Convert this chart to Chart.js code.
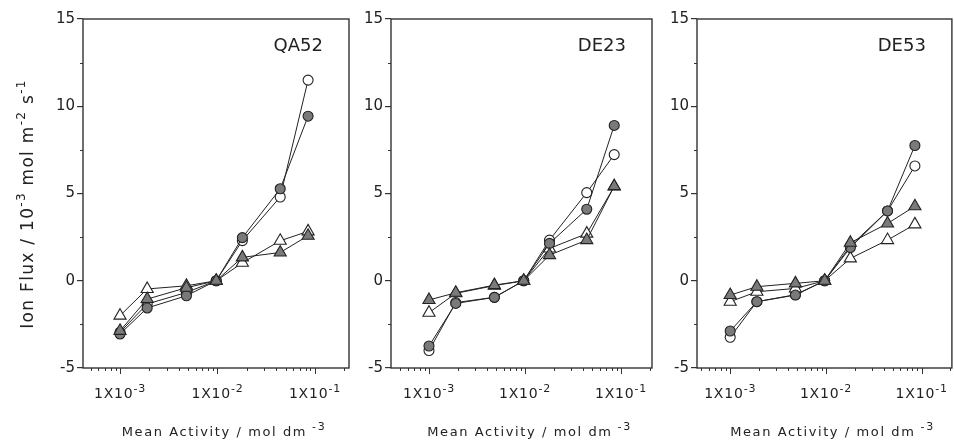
<!DOCTYPE html>
<html><head><meta charset="utf-8">
<script src="https://cdn.jsdelivr.net/npm/chart.js@4.4.1/dist/chart.umd.min.js"></script>
<style>
html,body{margin:0;padding:0;background:#fff;overflow:hidden;width:954px;height:441px}
canvas{position:absolute;left:0;top:0}
</style></head><body>
<canvas id="c1" width="960" height="441"></canvas>
<canvas id="c2" width="960" height="441"></canvas>
<canvas id="c3" width="960" height="441"></canvas>
<script>
// ---- data ----
const activity = [0.001, 0.0019, 0.0048, 0.0097, 0.018, 0.044, 0.085];

const qa52OpenCircle   = [-2.95, -1.33, -0.67, 0, 2.3, 4.8, 11.5];
const qa52FilledCircle = [-3.05, -1.56, -0.86, 0, 2.47, 5.27, 9.43];
const qa52OpenTri      = [-2.0, -0.47, -0.29, 0, 1.03, 2.29, 2.83];
const qa52FilledTri    = [-2.87, -1.05, -0.4, 0, 1.34, 1.62, 2.58];

const de23OpenCircle   = [-4.0, -1.25, -0.95, 0, 2.33, 5.05, 7.23];
const de23FilledCircle = [-3.74, -1.3, -0.95, 0, 2.14, 4.1, 8.9];
const de23OpenTri      = [-1.83, -0.72, -0.28, 0, 1.85, 2.7, 5.4];
const de23FilledTri    = [-1.1, -0.69, -0.25, 0, 1.47, 2.33, 5.42];

const de53OpenCircle   = [-3.24, -1.2, -0.8, 0, 2.0, 4.0, 6.58];
const de53FilledCircle = [-2.88, -1.2, -0.82, 0, 1.9, 4.0, 7.75];
const de53OpenTri      = [-1.2, -0.63, -0.44, 0, 1.28, 2.33, 3.23];
const de53FilledTri    = [-0.82, -0.34, -0.15, 0, 2.18, 3.28, 4.27];

const panelNames = ['QA52', 'DE23', 'DE53'];
const yMajorTicks = [-5, 0, 5, 10, 15];
const yMinorTicks = [-2.5, 2.5, 7.5, 12.5];
const xMajorExponents = [-3, -2, -1];

const FONT = '"DejaVu Sans", sans-serif';
const INK = '#222';

function richWidth(ctx, parts, size, supSize) {
  let w = 0;
  for (const [t, sup] of parts) {
    ctx.font = (sup ? supSize : size) + 'px ' + FONT;
    w += ctx.measureText(t).width;
  }
  return w;
}
function drawRich(ctx, parts, x, y, align, size, supSize, spacing) {
  ctx.save();
  try { ctx.letterSpacing = spacing + 'px'; } catch (e) {}
  const w = richWidth(ctx, parts, size, supSize);
  let cx = align === 'center' ? x - w / 2 : (align === 'right' ? x - w : x);
  ctx.textAlign = 'left';
  ctx.textBaseline = 'alphabetic';
  ctx.fillStyle = INK;
  for (const [t, sup] of parts) {
    ctx.font = (sup ? supSize : size) + 'px ' + FONT;
    ctx.fillText(t, cx, sup ? y - size * 0.45 : y);
    cx += ctx.measureText(t).width;
  }
  ctx.restore();
}

const panelPlugin = {
  id: 'panelDeco',
  afterDraw(chart) {
    const ctx = chart.ctx;
    const a = chart.chartArea;
    const xs = chart.scales.x, ys = chart.scales.y;
    const idx = chart.options.plugins.panelDeco.index;
    ctx.save();
    ctx.strokeStyle = '#333';
    ctx.lineWidth = 1.4;
    ctx.strokeRect(a.left, a.top, a.right - a.left, a.bottom - a.top);
    ctx.lineWidth = 1;
    ctx.beginPath();
    for (const v of yMinorTicks) {
      const py = Math.round(ys.getPixelForValue(v)) + 0.5;
      ctx.moveTo(a.left - 3, py); ctx.lineTo(a.left, py);
    }
    for (let e = -4; e <= 0; e++) {
      for (let m = 1; m <= 9; m++) {
        const v = m * Math.pow(10, e);
        if (v < xs.min || v > xs.max) continue;
        const px = Math.round(xs.getPixelForValue(v)) + 0.5;
        const len = m === 1 ? 6 : 3;
        ctx.moveTo(px, a.bottom); ctx.lineTo(px, a.bottom + len);
      }
    }
    ctx.stroke();
    ctx.restore();
    for (const e of xMajorExponents) {
      const px = xs.getPixelForValue(Math.pow(10, e));
      drawRich(ctx, [['1X10', false], [String(e), true]], px, 398, 'center', 14, 11, 0.8);
    }
    const cxm = (a.left + a.right) / 2 + 8;
    drawRich(ctx, [['Mean Activity / mol dm', false], [' -3', true]], cxm, 436, 'center', 13, 11, 1.6);
    ctx.save();
    ctx.font = '18px ' + FONT;
    ctx.fillStyle = INK;
    ctx.textAlign = 'right';
    ctx.textBaseline = 'alphabetic';
    ctx.fillText(panelNames[idx], a.right - 26, 51);
    ctx.restore();
    if (idx === 0) {
      ctx.save();
      ctx.translate(27, 204);
      ctx.rotate(-Math.PI / 2);
      drawRich(ctx, [['Ion Flux / 10', false], ['-3', true], [' mol m', false], ['-2', true], [' s', false], ['-1', true]],
        0, 6, 'center', 17, 12, 1.3);
      ctx.restore();
    }
  }
};

function series(vals, style, filled, r) {
  return {
    data: activity.map((x, i) => ({ x: x, y: vals[i] })),
    borderColor: INK,
    borderWidth: 1,
    fill: false,
    tension: 0,
    pointStyle: style,
    pointRadius: r,
    pointBackgroundColor: filled ? '#7a7a7a' : '#fff',
    pointBorderColor: '#222',
    pointBorderWidth: 1.1
  };
}

function makePanel(id, idx, sets, left, right, xmin, xmax) {
  new Chart(document.getElementById(id), {
    type: 'line',
    data: {
      // Chart.js draws the first dataset on top
      datasets: [
        series(sets[3], 'triangle', true, 7),
        series(sets[1], 'circle', true, 5),
        series(sets[2], 'triangle', false, 7),
        series(sets[0], 'circle', false, 5)
      ]
    },
    options: {
      responsive: false,
      animation: false,
      devicePixelRatio: 1,
      layout: { padding: { left: left - 40, right: 960 - right, top: 19, bottom: 0 } },
      plugins: { legend: { display: false }, tooltip: { enabled: false }, panelDeco: { index: idx } },
      scales: {
        x: {
          type: 'logarithmic', min: xmin, max: xmax,
          ticks: { display: false },
          grid: { display: false },
          border: { display: false },
          afterFit: s => { s.height = 73; }
        },
        y: {
          min: -5, max: 15,
          afterBuildTicks: s => { s.ticks = yMajorTicks.map(v => ({ value: v })); },
          ticks: { font: { family: FONT, size: 15 }, color: INK, padding: 2 },
          grid: { drawOnChartArea: false, drawTicks: true, tickLength: 6, color: '#333', lineWidth: 1.2 },
          border: { display: false },
          afterFit: s => { s.width = 40; }
        }
      }
    },
    plugins: [panelPlugin]
  });
}

makePanel('c1', 0, [qa52OpenCircle, qa52FilledCircle, qa52OpenTri, qa52FilledTri], 83, 349, 4.17e-4, 0.2235);
makePanel('c2', 1, [de23OpenCircle, de23FilledCircle, de23OpenTri, de23FilledTri], 391, 652, 4.02e-4, 0.2104);
makePanel('c3', 2, [de53OpenCircle, de53FilledCircle, de53OpenTri, de53FilledTri], 697, 958, 4.5e-4, 0.207);
</script>
</body></html>
